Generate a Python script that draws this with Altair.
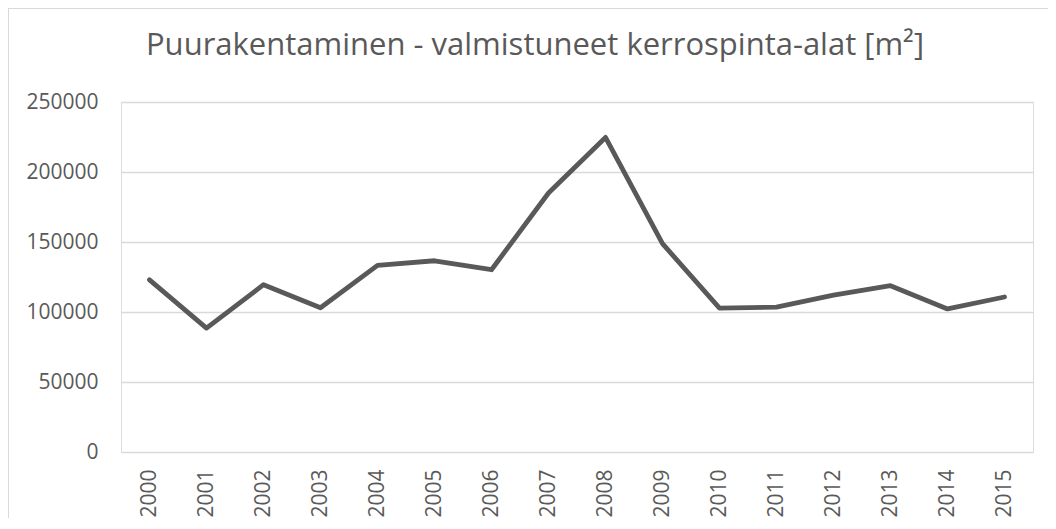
import altair as alt
import pandas as pd

years = [str(y) for y in range(2000, 2016)]
values = [123000, 88500, 119500, 103000, 133300, 136600, 130200, 185000,
          224700, 148800, 102800, 103500, 112000, 118800, 102200, 110700]

df = pd.DataFrame({"Vuosi": years, "Ala": values})

GRAY = "#595959"
FONT = "Open Sans"

W, H = 912, 350
PAD = {"left": 113, "top": 94, "right": 15, "bottom": 66}

border = alt.Chart(df).mark_rect(fill=None, stroke="#d9d9d9", strokeWidth=1).encode(
    x=alt.value(-PAD["left"] + 0.5),
    x2=alt.value(W + PAD["right"] + 30),
    y=alt.value(-PAD["top"] + 0.5),
    y2=alt.value(H + PAD["bottom"] + 30),
)

line = alt.Chart(df).mark_line(color=GRAY, strokeWidth=4.8, strokeCap="round", strokeJoin="round").encode(
    x=alt.X("Vuosi:N", sort=years, scale=alt.Scale(paddingInner=0, paddingOuter=0),
            axis=alt.Axis(title=None, labelAngle=-90, labelFontSize=21, labelFont=FONT,
                          labelColor=GRAY, ticks=False, domain=False, labelPadding=17,
                          grid=False)),
    y=alt.Y("Ala:Q", scale=alt.Scale(domain=[0, 250000], nice=False),
            axis=alt.Axis(title=None, values=[0, 50000, 100000, 150000, 200000, 250000],
                          format="d", labelFontSize=21, labelFont=FONT, labelColor=GRAY,
                          ticks=False, domain=False, labelPadding=23,
                          gridColor="#d9d9d9", gridWidth=1.5)),
)

chart = alt.layer(line, border).properties(
    width=W, height=H,
    autosize=alt.AutoSizeParams(type="none"),
    padding=PAD,
    title=alt.TitleParams(
        "Puurakentaminen - valmistuneet kerrospinta-alat [m²]",
        font=FONT, fontSize=31, fontWeight="normal", color=GRAY,
        anchor="middle", frame="group", dx=-42, offset=-77.5, baseline="alphabetic",
    ),
).configure_view(stroke=None).configure(background="white")

chart.save("out.html", embed_options={"renderer": "svg", "actions": False})
